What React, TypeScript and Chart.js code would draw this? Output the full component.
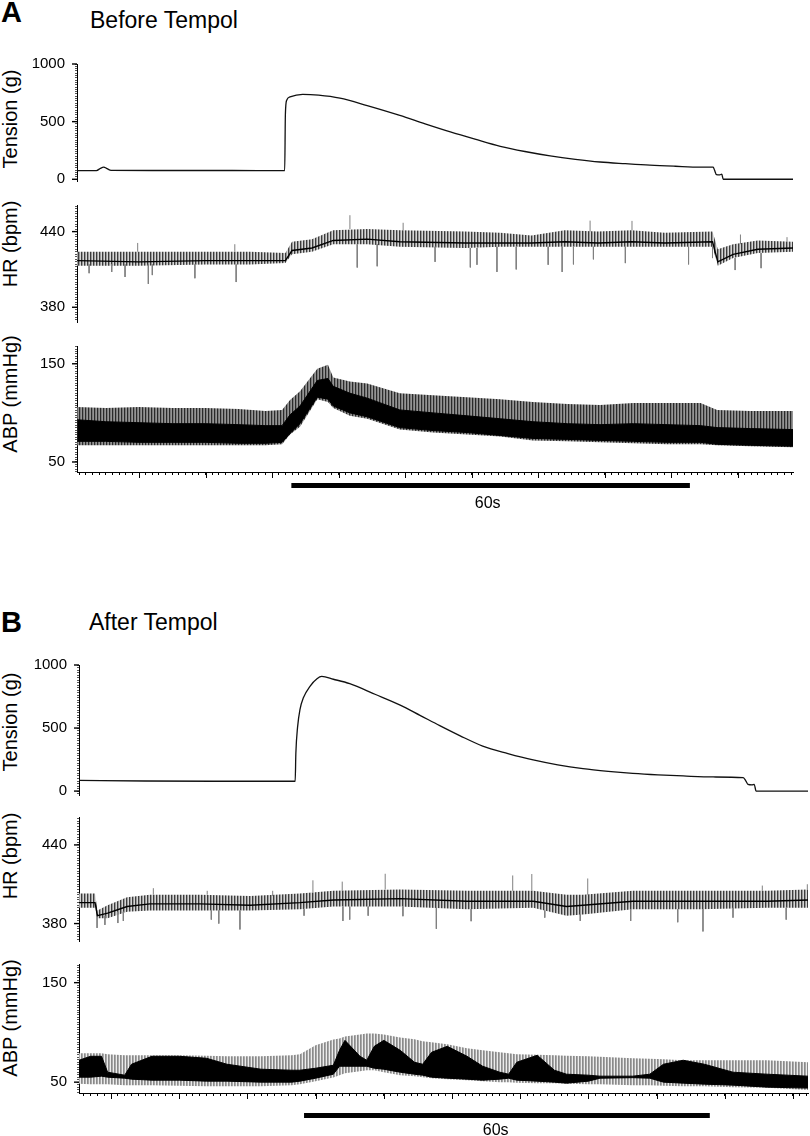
import React, { useEffect, useRef } from 'react';
import { Chart, registerables } from 'chart.js';

Chart.register(...registerables);

const FONT = "'Liberation Sans', Arial, Helvetica, sans-serif";
Chart.defaults.font.family = FONT;
Chart.defaults.color = '#000';

// ================= Panel A : Before Tempol (time in s) =================
const A_TENSION_T = [0.7, 3.6, 4.2, 4.7, 5.2, 5.8, 12, 24, 31.9, 32.0, 32.2, 32.7, 34.6, 37, 40.2, 44.3, 49.2, 53.0, 56.8, 60.5, 64.3, 68.0, 71.8, 75.6, 79.3, 83.1, 86.8, 90.6, 94.4, 96.3, 96.5, 96.8, 97.3, 97.6, 97.8, 108.3];
const A_TENSION_G = [75, 75, 95, 105, 92, 77, 76, 76, 75, 560, 686, 714, 737, 730, 704, 639, 554, 481, 411, 348, 286, 241, 203, 173, 150, 135, 122, 113, 106, 105, 80, 40, 38, 44, 0, 0];

const A_HR_T = [0.7, 10, 20, 26.7, 32.0, 33.0, 36.0, 39.2, 44.3, 49.2, 59.0, 64.3, 69.0, 74.0, 79.0, 84.0, 89.0, 96.2, 97.0, 99.3, 103.0, 108.3];
const A_HR_HI = [424, 424, 424, 424, 423, 432, 434, 441, 442, 441, 440, 439, 437, 441, 440, 441, 439, 440, 426, 430, 433, 432];
const A_HR_LO = [413, 413, 414, 414, 415, 422, 424, 430, 430, 428, 427, 428, 428, 428, 428, 428, 428, 428, 413, 419, 423, 424];
const A_HR_MID = [417, 416, 417, 417, 417, 425, 427, 433, 434, 432, 431, 431, 431, 432, 431, 432, 431, 432, 416, 422, 426, 427];
const A_SPIKE_T = [2.5, 5.9, 7.9, 9.8, 11.4, 12.0, 18.4, 24.4, 24.6, 41.7, 42.8, 45.8, 49.7, 54.5, 59.8, 60.8, 63.8, 66.7, 71.5, 73.6, 75.3, 77.8, 78.3, 83.1, 84.1, 92.6, 96.2, 99.6, 100.4, 103.5, 107.4];
const A_SPIKE_BASE = [414, 414, 414, 424, 414, 414, 414, 424, 414, 442, 430, 430, 441, 428, 427, 427, 428, 428, 428, 428, 428, 440, 428, 428, 441, 428, 428, 419, 430, 423, 432];
const A_SPIKE_TIP = [407, 408, 404, 431, 398.5, 405.5, 403, 430, 400, 453, 411.5, 412.5, 447, 416, 411.6, 413.7, 408, 410, 413.7, 408, 414, 448.7, 418, 415, 448.5, 414, 419, 409.5, 437.7, 411, 435.6];

const A_ABP_T = [0.7, 5, 10, 15, 20, 25, 29, 31.5, 32.7, 34.2, 36.8, 38.4, 39.2, 41.7, 44.3, 49.2, 54.2, 59.3, 64.3, 69.2, 74.4, 79.3, 84.3, 89.4, 94.4, 96.9, 101.9, 108.3];
const A_ABP_SYS = [106, 105, 106, 105, 105, 104, 102, 103, 113, 122, 145, 149, 136, 132, 130, 120, 118, 116, 114, 111, 109, 108, 110, 110, 110, 103, 102, 102];
const A_ABP_DIA = [67, 67, 67, 67, 67, 67, 67, 68, 78, 86, 114, 111, 105, 97, 94, 83, 80, 78, 76, 72, 71, 70, 69, 68, 68, 67, 66, 65];
const A_ABP_CORE_HI = [93, 91, 90, 89, 89, 88, 87, 87, 98, 107, 133, 135, 127, 120, 115, 103, 100, 97, 94, 91, 89, 88, 89, 88, 87, 85, 84, 83];
const A_ABP_CORE_LO = [71, 71, 70, 70, 70, 69, 69, 70, 79, 89, 116, 114, 107, 100, 96, 85, 82, 80, 77, 74, 73, 72, 71, 70, 70, 68, 67, 66];

const A_BAR = { from: 32.9, to: 92.8, labelAt: 62.4, label: '60s' };

// ================= Panel B : After Tempol (time in s) =================
const B_TENSION_T = [5.3, 15, 25, 37.0, 37.1, 37.35, 37.7, 38.2, 39.2, 40.2, 40.9, 42.6, 45.0, 48.7, 52.4, 55.3, 58.2, 61.2, 64.5, 68.2, 71.9, 75.5, 79.2, 82.9, 86.5, 90.2, 93.9, 98.3, 102.7, 103.1, 103.4, 104.0, 104.3, 104.6, 112.2];
const B_TENSION_G = [85, 80, 78, 78, 300, 507, 647, 740, 833, 891, 909, 887, 852, 768, 682, 601, 519, 438, 357, 298, 247, 208, 178, 157, 141, 129, 120, 112, 106, 80, 54, 50, 53, 0, 0];

const B_HR_T = [5.3, 7.65, 8.0, 9.5, 12.35, 15.7, 23.0, 30.4, 37.7, 42.6, 52.4, 62.2, 71.9, 76.8, 79.2, 86.5, 96.4, 106.2, 112.2];
const B_HR_HI = [403, 403, 390, 394, 400, 402, 402, 401, 403, 405, 406, 405, 405, 402, 402, 405, 405, 405, 406];
const B_HR_LO = [392, 392, 384, 384, 389, 390, 390, 390, 391, 393, 393, 391, 392, 386, 387, 391, 391, 392, 392];
const B_HR_MID = [396, 396, 386, 388, 393, 395, 395, 394, 396, 398, 399, 397, 397, 393, 394, 397, 397, 397, 398];
const B_SPIKE_T = [7.95, 9.1, 11.0, 11.8, 16.2, 24.1, 24.7, 25.8, 28.9, 33.7, 38.3, 39.6, 43.9, 44.0, 45.0, 47.7, 50.2, 52.8, 57.7, 62.8, 68.9, 71.7, 73.6, 78.8, 79.9, 86.2, 93.1, 96.8, 101.2, 105.5, 109.0, 112.1];
const B_SPIKE_BASE = [387, 386, 389, 389, 402, 402, 390, 390, 390, 401, 391, 404, 405, 393, 393, 393, 406, 393, 392, 391, 405, 405, 390, 387, 402, 391, 391, 391, 392, 405, 392, 406];
const B_SPIKE_TIP = [376.7, 379, 380.4, 382, 407, 405, 383, 380, 375.5, 405, 386, 413, 412, 382, 383, 386, 418, 385.6, 376, 381.8, 416.7, 417.8, 384.5, 382, 414.4, 382, 381, 374, 384.5, 409, 383, 410];

const B_ABP_T = [5.3, 7.0, 8.6, 9.5, 12.0, 13.0, 16.0, 20.0, 24.0, 27.0, 32.0, 36.5, 37.7, 40.0, 42.6, 43.5, 44.3, 46.5, 47.5, 48.6, 50.0, 52.4, 54.5, 55.7, 57.0, 59.3, 62.2, 64.5, 67.0, 68.3, 69.5, 72.5, 75.0, 76.8, 80.0, 81.7, 86.5, 89.0, 91.0, 93.9, 97.0, 101.2, 106.2, 112.2];
const B_ABP_SYS = [79, 79, 79, 78, 77, 77, 77, 77, 76.5, 76, 76, 77, 78, 87, 92.8, 94, 96, 98, 99, 99, 98, 95, 93, 91, 90, 88, 84, 82, 80, 79, 78, 77.5, 77, 76.6, 76, 75.5, 74, 73.5, 73, 72, 72, 72, 72, 70];
const B_ABP_DIA = [48.5, 48, 48, 48, 47, 47, 47, 46.5, 46, 46, 46, 47, 48, 51, 54.7, 57, 59, 61, 62, 62, 60, 57, 56, 55, 54, 53, 52, 51, 50, 50, 49.5, 49, 49, 48.5, 48, 48, 47, 47, 46.5, 46, 46, 45, 44.5, 42];
const B_ABP_CORE_HI = [72, 76, 76, 60, 57, 68, 76, 76, 74, 68, 63, 62, 62, 64, 67, 82, 92, 76, 72, 86, 92, 82, 70, 68, 80, 86, 76, 66, 60, 58, 70, 77, 62, 58, 57, 56, 56, 58, 68, 72, 68, 60, 58, 56];
const B_ABP_CORE_LO = [55, 55, 56, 55, 54, 53, 52, 52, 51, 51, 50, 50, 51, 54, 58, 66, 66, 66, 66, 64, 63, 60, 58, 57, 55, 54, 53, 52, 53, 54, 52, 51, 50, 49, 51, 54, 54.5, 54, 50, 49, 48, 47, 45, 44];

const B_BAR = { from: 38.3, to: 97.8, labelAt: 66.4, label: '60s' };

// axis tick labels
const TENSION_LABELS = [0, 500, 1000];
const HR_LABELS = [380, 440];
const ABP_LABELS = [50, 150];

// ---------------------------------------------------------------------
type Geo = { top: number; bottom: number; min: number; max: number; step: number; labels: number[] };

const PAD_TOP = 10;
const X_AXIS_H = 8;

const pts = (t: number[], v: number[]) => t.map((x, i) => ({ x, y: v[i] }));
const spikePts = (t: number[], a: number[], b: number[]) =>
  t.flatMap((x, i) => [{ x, y: a[i] }, { x, y: b[i] }, { x, y: null as any }]);

function yAxis(g: Geo, width: number) {
  return {
    type: 'linear',
    position: 'left',
    min: g.min,
    max: g.max,
    afterFit: (s: any) => { s.width = width; },
    afterBuildTicks: (s: any) => {
      const start = Math.ceil(g.min / g.step) * g.step;
      const n = Math.floor((g.max - start) / g.step + 1e-9);
      const out: any[] = [];
      for (let i = 0; i <= n; i++) out.push({ value: Math.round((start + i * g.step) * 1000) / 1000 });
      s.ticks = out;
    },
    ticks: {
      autoSkip: false,
      padding: 10,
      color: '#000',
      font: { family: FONT, size: 15 },
      callback: (v: number) => (g.labels.includes(v) ? String(v) : ''),
    },
    grid: { drawOnChartArea: false, drawTicks: true, tickLength: 2, tickColor: '#555', tickWidth: 1 },
    border: { display: true, color: '#000', width: 1 },
  };
}

function xAxis(min: number, max: number, visible: boolean) {
  return {
    type: 'linear',
    min,
    max,
    offset: false,
    display: visible,
    afterFit: (s: any) => { s.height = X_AXIS_H; },
    afterBuildTicks: (s: any) => {
      const out: any[] = [];
      for (let v = Math.ceil(min); v <= max; v++) out.push({ value: v });
      s.ticks = out;
    },
    ticks: { display: false, autoSkip: false },
    grid: { drawOnChartArea: false, drawTicks: true, tickLength: 3, tickColor: '#000', tickWidth: 1 },
    border: { display: true, color: '#000', width: 1 },
  };
}

const marks = {
  id: 'marks',
  afterDraw(chart: any, _a: any, o: any) {
    const ctx = chart.ctx;
    const ys = chart.scales.y;
    const xs = chart.scales.x;
    ctx.save();
    ctx.strokeStyle = '#000';
    ctx.lineWidth = 1.4;
    for (const v of o.yMajor || []) {
      const p = ys.getPixelForValue(v);
      ctx.beginPath();
      ctx.moveTo(ys.right - 5, p);
      ctx.lineTo(ys.right, p);
      ctx.stroke();
    }
    if (o.xMajorStep) {
      ctx.lineWidth = 1;
      for (let v = Math.ceil(xs.min / o.xMajorStep) * o.xMajorStep; v <= xs.max; v += o.xMajorStep) {
        const p = Math.round(xs.getPixelForValue(v)) + 0.5;
        ctx.beginPath();
        ctx.moveTo(p, xs.top);
        ctx.lineTo(p, xs.top + 6);
        ctx.stroke();
      }
    }
    if (o.bar) {
      const b = o.bar;
      const x1 = xs.getPixelForValue(b.from);
      const x2 = xs.getPixelForValue(b.to);
      const base = chart.chartArea.bottom;
      ctx.fillStyle = '#000';
      ctx.fillRect(x1, base + o.barGap, x2 - x1, o.barThick);
      ctx.font = `16px ${FONT}`;
      ctx.textAlign = 'center';
      ctx.textBaseline = 'alphabetic';
      ctx.fillText(b.label, xs.getPixelForValue(b.labelAt), base + o.textGap);
    }
    ctx.restore();
  },
};

function stripes(canvas: HTMLCanvasElement, colors: string[]) {
  const c = document.createElement('canvas');
  c.width = colors.length;
  c.height = 1;
  const g = c.getContext('2d')!;
  colors.forEach((col, i) => { g.fillStyle = col; g.fillRect(i, 0, 1, 1); });
  return canvas.getContext('2d')!.createPattern(c, 'repeat');
}

function baseOptions(padRight: number, padBottom: number, scales: any, pluginOpts: any) {
  return {
    responsive: false,
    animation: false,
    events: [],
    layout: { padding: { left: 0, right: padRight, top: PAD_TOP, bottom: padBottom } },
    elements: { point: { radius: 0 }, line: { tension: 0 } },
    plugins: { legend: { display: false }, tooltip: { enabled: false }, marks: pluginOpts },
    scales,
  };
}

interface PanelSpec {
  left: number; right: number; xMin: number; xMax: number;
  tension: Geo; hr: Geo; abp: Geo;
  abpBottomPad: number; barGap: number; textGap: number;
  abpPattern: string[];
  tensionT: number[]; tensionG: number[];
  hrT: number[]; hrHi: number[]; hrLo: number[]; hrMid: number[];
  spT: number[]; spBase: number[]; spTip: number[];
  abpT: number[]; sys: number[]; dia: number[]; coreHi: number[]; coreLo: number[];
  bar: any;
  titles: { letter: string; letterTop: number; title: string; titleLeft: number; titleTop: number; yT: number; yH: number; yA: number };
}

function Panel({ s }: { s: PanelSpec }) {
  const r1 = useRef<HTMLCanvasElement>(null);
  const r2 = useRef<HTMLCanvasElement>(null);
  const r3 = useRef<HTMLCanvasElement>(null);
  const padRight = 810 - s.right;

  const hT = s.tension.bottom - s.tension.top + PAD_TOP + 10;
  const hH = s.hr.bottom - s.hr.top + PAD_TOP + 10;
  const hA = s.abp.bottom - s.abp.top + PAD_TOP + X_AXIS_H + s.abpBottomPad;

  useEffect(() => {
    const charts: Chart[] = [];
    // Tension
    charts.push(new Chart(r1.current!, {
      type: 'line',
      data: {
        datasets: [{
          data: pts(s.tensionT, s.tensionG), borderColor: '#111', borderWidth: 1.3, fill: false,
          cubicInterpolationMode: 'monotone',
        }],
      },
      options: baseOptions(padRight, 10, { x: xAxis(s.xMin, s.xMax, false), y: yAxis(s.tension, s.left) }, { yMajor: s.tension.labels }) as any,
      plugins: [marks],
    } as any));
    // HR
    const hrPat = stripes(r2.current!, ['#3c3c3c', '#9a9a9a', '#d6d6d6']);
    charts.push(new Chart(r2.current!, {
      type: 'line',
      data: {
        datasets: [
          { data: pts(s.hrT, s.hrMid), borderColor: '#000', borderWidth: 1.4, fill: false, order: 0 },
          { data: spikePts(s.spT, s.spBase, s.spTip), borderColor: '#808080', borderWidth: 1, fill: false, spanGaps: false, order: 1 },
          { data: pts(s.hrT, s.hrHi), borderColor: 'rgba(0,0,0,0)', borderWidth: 0, fill: '+1', backgroundColor: hrPat, order: 2 },
          { data: pts(s.hrT, s.hrLo), borderColor: 'rgba(0,0,0,0)', borderWidth: 0, fill: false, order: 2 },
        ],
      },
      options: baseOptions(padRight, 10, { x: xAxis(s.xMin, s.xMax, false), y: yAxis(s.hr, s.left) }, { yMajor: s.hr.labels }) as any,
      plugins: [marks],
    } as any));
    // ABP
    const abpPat = stripes(r3.current!, s.abpPattern);
    charts.push(new Chart(r3.current!, {
      type: 'line',
      data: {
        datasets: [
          { data: pts(s.abpT, s.coreHi), borderColor: '#000', borderWidth: 1, fill: '+1', backgroundColor: '#000', order: 0 },
          { data: pts(s.abpT, s.coreLo), borderColor: '#000', borderWidth: 1, fill: false, order: 0 },
          { data: pts(s.abpT, s.sys), borderColor: 'rgba(0,0,0,0)', borderWidth: 0, fill: '+1', backgroundColor: abpPat, order: 1 },
          { data: pts(s.abpT, s.dia), borderColor: 'rgba(0,0,0,0)', borderWidth: 0, fill: false, order: 1 },
        ],
      },
      options: baseOptions(padRight, s.abpBottomPad, { x: xAxis(s.xMin, s.xMax, true), y: yAxis(s.abp, s.left) }, {
        yMajor: s.abp.labels, xMajorStep: 10, bar: s.bar, barGap: s.barGap, barThick: 5, textGap: s.textGap,
      }) as any,
      plugins: [marks],
    } as any));
    return () => charts.forEach((c) => c.destroy());
  }, []);

  const cv = (top: number, h: number) => ({ position: 'absolute' as const, left: 0, top, width: 810, height: h });
  const rot = (cx: number, cy: number) => ({
    position: 'absolute' as const, left: cx, top: cy, fontSize: 20, lineHeight: '20px', whiteSpace: 'nowrap' as const,
    fontFamily: FONT, color: '#000', transform: 'translate(-50%, -50%) rotate(-90deg)',
  });
  const t = s.titles;
  return (
    <>
      <div style={{ position: 'absolute', left: 1, top: t.letterTop, fontSize: 29, fontWeight: 'bold', lineHeight: 1, fontFamily: FONT, color: '#000' }}>{t.letter}</div>
      <div style={{ position: 'absolute', left: t.titleLeft, top: t.titleTop, fontSize: 23, lineHeight: 1, fontFamily: FONT, color: '#000', whiteSpace: 'nowrap' }}>{t.title}</div>
      <div style={rot(10, t.yT)}>Tension (g)</div>
      <div style={rot(10, t.yH)}>HR (bpm)</div>
      <div style={rot(10, t.yA)}>ABP (mmHg)</div>
      <canvas ref={r1} width={810} height={hT} style={cv(s.tension.top - PAD_TOP, hT)} />
      <canvas ref={r2} width={810} height={hH} style={cv(s.hr.top - PAD_TOP, hH)} />
      <canvas ref={r3} width={810} height={hA} style={cv(s.abp.top - PAD_TOP, hA)} />
    </>
  );
}

const PANEL_A: PanelSpec = {
  left: 77, right: 793, xMin: 0.68, xMax: 108.3,
  tension: { top: 55, bottom: 190, min: -15, max: 1000, step: 20, labels: TENSION_LABELS },
  hr: { top: 196, bottom: 331, min: 368.3, max: 461.1, step: 2, labels: HR_LABELS },
  abp: { top: 337, bottom: 472, min: 39.8, max: 168.1, step: 2.5, labels: ABP_LABELS },
  abpBottomPad: 35, barGap: 11, textGap: 36,
  abpPattern: ['#959595', '#2a2a2a', '#7a7a7a'],
  tensionT: A_TENSION_T, tensionG: A_TENSION_G,
  hrT: A_HR_T, hrHi: A_HR_HI, hrLo: A_HR_LO, hrMid: A_HR_MID,
  spT: A_SPIKE_T, spBase: A_SPIKE_BASE, spTip: A_SPIKE_TIP,
  abpT: A_ABP_T, sys: A_ABP_SYS, dia: A_ABP_DIA, coreHi: A_ABP_CORE_HI, coreLo: A_ABP_CORE_LO,
  bar: A_BAR,
  titles: { letter: 'A', letterTop: -2, title: 'Before Tempol', titleLeft: 90, titleTop: 9, yT: 119, yH: 243.5, yA: 394 },
};

const PANEL_B: PanelSpec = {
  left: 79, right: 808, xMin: 5.3, xMax: 112.2,
  tension: { top: 656, bottom: 804, min: -31, max: 1000, step: 20, labels: TENSION_LABELS },
  hr: { top: 808, bottom: 950, min: 366.7, max: 461.3, step: 2, labels: HR_LABELS },
  abp: { top: 955, bottom: 1093, min: 39.1, max: 168.75, step: 2.5, labels: ABP_LABELS },
  abpBottomPad: 35, barGap: 20, textGap: 42,
  abpPattern: ['#8a8a8a', '#a8a8a8', '#ececec'],
  tensionT: B_TENSION_T, tensionG: B_TENSION_G,
  hrT: B_HR_T, hrHi: B_HR_HI, hrLo: B_HR_LO, hrMid: B_HR_MID,
  spT: B_SPIKE_T, spBase: B_SPIKE_BASE, spTip: B_SPIKE_TIP,
  abpT: B_ABP_T, sys: B_ABP_SYS, dia: B_ABP_DIA, coreHi: B_ABP_CORE_HI, coreLo: B_ABP_CORE_LO,
  bar: B_BAR,
  titles: { letter: 'B', letterTop: 608, title: 'After Tempol', titleLeft: 89, titleTop: 611, yT: 722, yH: 856, yA: 1017.5 },
};

export default function App() {
  return (
    <div style={{ position: 'absolute', left: 0, top: 0, width: 810, height: 1136, background: '#fff', overflow: 'hidden' }}>
      <Panel s={PANEL_A} />
      <Panel s={PANEL_B} />
    </div>
  );
}
